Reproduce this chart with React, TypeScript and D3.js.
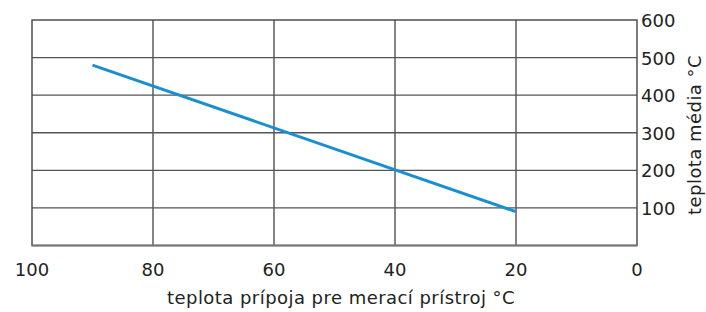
import React from "react";
import * as d3 from "d3";

const xTicks = [100, 80, 60, 40, 20, 0];
const yTicks = [100, 200, 300, 400, 500, 600];
const lineX = [90, 20];
const lineY = [480, 90];
const xTitle = "teplota prípoja pre merací prístroj °C";
const yTitle = "teplota média °C";

export default function App() {
  const W = 706, H = 312;
  const left = 32, right = 637, top = 20, bottom = 245.5;
  const x = d3.scaleLinear().domain([100, 0]).range([left, right]);
  const y = d3.scaleLinear().domain([0, 600]).range([bottom, top]);
  const pts: [number, number][] = lineX.map((v, i) => [v, lineY[i]]);
  const line = d3.line<[number, number]>().x(d => x(d[0])).y(d => y(d[1]));
  const font = "Verdana, DejaVu Sans, sans-serif";
  const ls = 0.45;
  return (
    <svg width={W} height={H} style={{ position: "absolute", left: 0, top: 0 }}>
      <rect x={0} y={0} width={W} height={H} fill="#fff" />
      {xTicks.filter(t => t !== 100 && t !== 0).map(t => (
        <line key={"vx" + t} x1={x(t)} x2={x(t)} y1={top} y2={bottom} stroke="#333" strokeWidth={1.2} />
      ))}
      {yTicks.filter(t => t !== 600).map(t => (
        <line key={"hy" + t} x1={left} x2={right} y1={y(t)} y2={y(t)} stroke="#555" strokeWidth={1.4} />
      ))}
      <rect x={left} y={top} width={right - left} height={bottom - top} fill="none" stroke="#444" strokeWidth={1.4} />
      <line x1={left} x2={right} y1={bottom} y2={bottom} stroke="#777" strokeWidth={2} />
      <path d={line(pts) || ""} fill="none" stroke="#1a8fd0" strokeWidth={3} />
      {xTicks.map(t => (
        <text key={"xt" + t} x={x(t)} y={276} textAnchor="middle" fontFamily={font} fontSize={18} fill="#222">{t}</text>
      ))}
      {yTicks.map(t => (
        <text key={"yt" + t} x={641} y={y(t) + 7} textAnchor="start" fontFamily={font} fontSize={18} fill="#222">{t}</text>
      ))}
      <text x={341} y={304} textAnchor="middle" fontFamily={font} fontSize={18} letterSpacing={ls} fill="#222">{xTitle}</text>
      <text transform={`translate(701,${135}) rotate(-90)`} textAnchor="middle" fontFamily={font} fontSize={18} letterSpacing={ls} fill="#222">{yTitle}</text>
    </svg>
  );
}
